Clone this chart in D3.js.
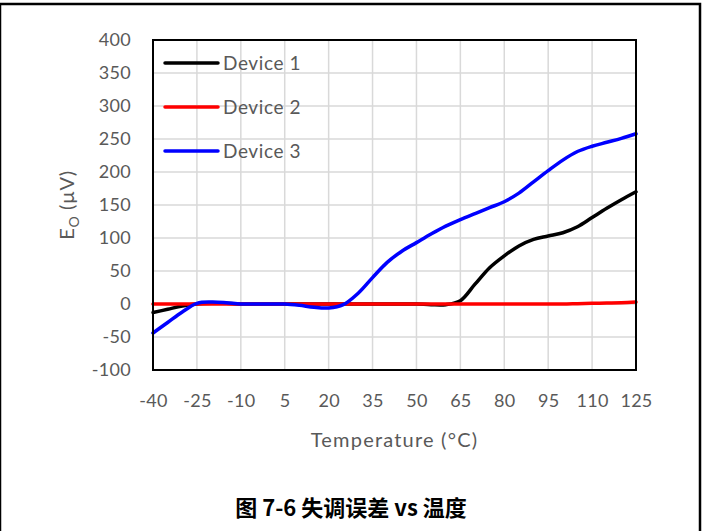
<!DOCTYPE html>
<html lang="zh">
<head>
<meta charset="UTF-8" />
<title>失调误差 vs 温度</title>
<script src="https://cdn.jsdelivr.net/npm/d3@7"></script>
<style>
  body { margin: 0; background: #fff; }
  svg { display: block; }
  .tick text { font-family: Lato, "Open Sans", sans-serif; fill: #595959; font-size: 18px; letter-spacing: 0.3px; }
</style>
</head>
<body>
<svg width="704" height="531"></svg>
<script>
var temps = [-40, -35, -30, -25, -20, -15, -10, -5, 0, 5, 10, 15, 20, 25, 30, 35, 40,
  45, 50, 55, 60, 65, 70, 75, 80, 85, 90, 95, 100, 105, 110, 115, 120, 125];
var device1 = [-13, -8, -3, 0, 1, 1, 0, 0, 0, 0, 0, 0, 0, 0, 0, 0, 0,
  0, 0, -1, -1, 5, 30, 55, 73, 88, 98, 103, 108, 117, 131, 145, 158, 170];
var device2 = [0, 0, 0, 0, 0, 0, 0, 0, 0, 0, 0, 0, 0, 0, 0, 0, 0,
  0, 0, 0, 0, 0, 0, 0, 0, 0, 0, 0, 0, 0.5, 1, 1.5, 2, 3];
var device3 = [-44, -28, -12, 1, 3, 2, 0, 0, 0, 0, -2, -5, -6, -1, 16, 40, 63,
  80, 93, 106, 118, 128, 137, 146, 155, 168, 185, 202, 218, 231, 239, 245, 251, 258];
var seriesNames = ["Device 1", "Device 2", "Device 3"];
var seriesColors = ["#000000", "#ff0000", "#0000ff"];
var xTicks = [-40, -25, -10, 5, 20, 35, 50, 65, 80, 95, 110, 125];
var yTicks = [-100, -50, 0, 50, 100, 150, 200, 250, 300, 350, 400];

var svg = d3.select("svg");
var margin = { left: 153, top: 40, right: 68, bottom: 161 };
var width = 704 - margin.left - margin.right,
  height = 531 - margin.top - margin.bottom;

// outer frame (open at the bottom)
svg.append("rect")
  .attr("x", 0).attr("y", 4).attr("width", 700).attr("height", 600)
  .attr("fill", "none").attr("stroke", "#000").attr("stroke-width", 2.5);

var x = d3.scaleLinear().domain([-40, 125]).range([0, width]);
var y = d3.scaleLinear().domain([-100, 400]).range([height, 0]);

var g = svg.append("g").attr("transform", "translate(" + margin.left + "," + margin.top + ")");

// grid
g.append("g").selectAll("line").data(xTicks).enter().append("line")
  .attr("x1", function (d) { return x(d); }).attr("x2", function (d) { return x(d); })
  .attr("y1", 0).attr("y2", height)
  .attr("stroke", "#d9d9d9").attr("stroke-width", 1.5);
g.append("g").selectAll("line").data(yTicks).enter().append("line")
  .attr("x1", 0).attr("x2", width)
  .attr("y1", function (d) { return y(d); }).attr("y2", function (d) { return y(d); })
  .attr("stroke", "#d9d9d9").attr("stroke-width", 1.5);

// axes (labels only, plain hyphen for negatives like the original)
var plain = function (d) { return String(d); };
var xAxis = g.append("g")
  .attr("transform", "translate(0," + height + ")")
  .call(d3.axisBottom(x).tickValues(xTicks).tickFormat(plain).tickSize(0).tickPadding(24));
xAxis.select(".domain").remove();

var yAxis = g.append("g")
  .call(d3.axisLeft(y).tickValues(yTicks).tickFormat(plain).tickSize(0).tickPadding(22));
yAxis.select(".domain").remove();

// lines
var line = d3.line()
  .x(function (d) { return x(d[0]); })
  .y(function (d) { return y(d[1]); })
  .curve(d3.curveCatmullRom.alpha(0.5));

[device1, device2, device3].forEach(function (vals, i) {
  g.append("path")
    .datum(temps.map(function (t, j) { return [t, vals[j]]; }))
    .attr("fill", "none")
    .attr("stroke", seriesColors[i])
    .attr("stroke-width", 3.5)
    .attr("stroke-linecap", "round")
    .attr("d", line);
});

// plot border
g.append("rect")
  .attr("width", width).attr("height", height)
  .attr("fill", "none").attr("stroke", "#000").attr("stroke-width", 2);

// legend
var legend = g.append("g");
seriesNames.forEach(function (name, i) {
  var ly = 23 + i * 44;
  legend.append("line")
    .attr("x1", 12).attr("x2", 65).attr("y1", ly).attr("y2", ly)
    .attr("stroke", seriesColors[i]).attr("stroke-width", 3.5)
    .attr("stroke-linecap", "round");
  legend.append("text")
    .attr("x", 70).attr("y", ly).attr("dy", "0.35em")
    .attr("font-family", "Lato, 'Open Sans', sans-serif")
    .attr("font-size", 19).attr("letter-spacing", 0.6).attr("fill", "#595959")
    .text(name);
});

// axis titles
svg.append("text")
  .attr("x", margin.left + width / 2).attr("y", 447)
  .attr("text-anchor", "middle")
  .attr("font-family", "Lato, 'Open Sans', sans-serif")
  .attr("font-size", 20).attr("letter-spacing", 1.2).attr("fill", "#595959")
  .text("Temperature (°C)");

var yt = svg.append("text")
  .attr("transform", "translate(74," + (margin.top + height / 2) + ") rotate(-90)")
  .attr("text-anchor", "middle")
  .attr("font-family", "Lato, 'Open Sans', sans-serif")
  .attr("font-size", 20).attr("letter-spacing", 0.6).attr("fill", "#595959");
yt.append("tspan").text("E");
yt.append("tspan").attr("font-size", 14).attr("dy", 5).text("O");
yt.append("tspan").attr("dy", -5).text(" (µV)");

// caption
svg.append("text")
  .attr("x", 351).attr("y", 516)
  .attr("text-anchor", "middle")
  .attr("font-family", "'Noto Sans CJK SC', sans-serif")
  .attr("font-weight", "bold")
  .attr("font-size", 22).attr("fill", "#000")
  .text("图 7-6 失调误差 vs 温度");
</script>
</body>
</html>
